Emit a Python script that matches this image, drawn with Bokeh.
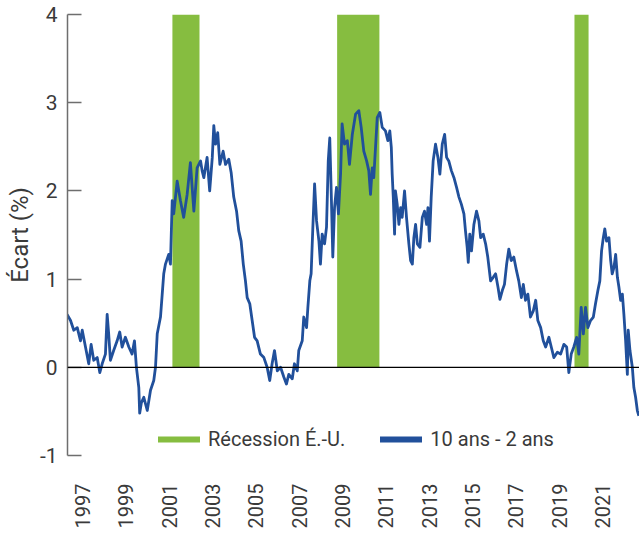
import math
from bokeh.plotting import figure
from bokeh.models import FixedTicker, Span, Legend, LegendItem, Range1d
from bokeh.embed import file_html
from bokeh.resources import INLINE

# ---- data (fractional years, spread in %) ----
years = [
    1996.29, 1996.45, 1996.60, 1996.76, 1996.91, 1996.99, 1997.14, 1997.29, 1997.40, 1997.52,
    1997.68, 1997.80, 1997.91, 1998.06, 1998.14, 1998.21, 1998.29, 1998.44, 1998.60, 1998.72,
    1998.83, 1998.98, 1999.14, 1999.29, 1999.40, 1999.49, 1999.60, 1999.64, 1999.72, 1999.83,
    1999.99, 2000.14, 2000.29, 2000.37, 2000.45, 2000.60, 2000.68, 2000.75, 2000.83, 2000.98,
    2001.06, 2001.14, 2001.21, 2001.37, 2001.52, 2001.67, 2001.83, 2001.98, 2002.14, 2002.29,
    2002.45, 2002.52, 2002.60, 2002.75, 2002.87, 2002.99, 2003.06, 2003.14, 2003.24, 2003.34,
    2003.49, 2003.60, 2003.75, 2003.86, 2003.98, 2004.11, 2004.21, 2004.32, 2004.42, 2004.52,
    2004.60, 2004.72, 2004.83, 2004.94, 2005.06, 2005.21, 2005.37, 2005.52, 2005.64, 2005.75,
    2005.86, 2005.99, 2006.14, 2006.29, 2006.41, 2006.52, 2006.68, 2006.78, 2006.91, 2006.98,
    2007.14, 2007.21, 2007.34, 2007.40, 2007.49, 2007.55, 2007.63, 2007.71, 2007.80, 2007.91,
    2007.98, 2008.06, 2008.17, 2008.26, 2008.34, 2008.41, 2008.48, 2008.55, 2008.63, 2008.72,
    2008.81, 2008.91, 2008.98, 2009.09, 2009.22, 2009.32, 2009.45, 2009.60, 2009.75, 2009.86,
    2009.98, 2010.11, 2010.21, 2010.29, 2010.37, 2010.44, 2010.52, 2010.60, 2010.72, 2010.83,
    2010.98, 2011.09, 2011.18, 2011.25, 2011.29, 2011.34, 2011.40, 2011.44, 2011.52, 2011.60,
    2011.68, 2011.75, 2011.86, 2011.95, 2012.06, 2012.14, 2012.22, 2012.29, 2012.37, 2012.45,
    2012.57, 2012.68, 2012.78, 2012.88, 2012.94, 2013.01, 2013.09, 2013.18, 2013.29, 2013.40,
    2013.49, 2013.60, 2013.71, 2013.80, 2013.90, 2014.02, 2014.14, 2014.26, 2014.37, 2014.48,
    2014.60, 2014.67, 2014.75, 2014.80, 2014.87, 2014.95, 2015.06, 2015.18, 2015.29, 2015.37,
    2015.49, 2015.60, 2015.70, 2015.83, 2015.95, 2016.06, 2016.17, 2016.26, 2016.37, 2016.47,
    2016.57, 2016.67, 2016.78, 2016.90, 2017.03, 2017.13, 2017.25, 2017.34, 2017.44, 2017.55,
    2017.67, 2017.80, 2017.91, 2018.01, 2018.14, 2018.26, 2018.37, 2018.52, 2018.63, 2018.75,
    2018.91, 2019.06, 2019.21, 2019.34, 2019.44, 2019.55, 2019.67, 2019.80, 2019.90, 2020.01,
    2020.11, 2020.21, 2020.32, 2020.44, 2020.57, 2020.67, 2020.78, 2020.87, 2020.95, 2021.03,
    2021.10, 2021.18, 2021.29, 2021.37, 2021.44, 2021.52, 2021.60, 2021.68, 2021.75, 2021.83,
    2021.91, 2021.98, 2022.06, 2022.14, 2022.18, 2022.26, 2022.37, 2022.44, 2022.52, 2022.60,
    2022.67,
]
spread = [
    0.60, 0.53, 0.42, 0.45, 0.30, 0.42, 0.23, 0.04, 0.26, 0.08,
    0.11, -0.06, 0.04, 0.15, 0.60, 0.38, 0.08, 0.19, 0.30, 0.40,
    0.23, 0.34, 0.23, 0.15, 0.30, 0.00, -0.23, -0.52, -0.40, -0.34,
    -0.49, -0.26, -0.15, 0.00, 0.38, 0.57, 0.83, 1.06, 1.17, 1.28,
    1.17, 1.89, 1.74, 2.11, 1.89, 1.70, 1.96, 2.32, 1.77, 2.26,
    2.34, 2.23, 2.15, 2.38, 2.00, 2.38, 2.74, 2.53, 2.66, 2.30,
    2.45, 2.30, 2.36, 2.21, 1.93, 1.77, 1.55, 1.43, 1.17, 0.98,
    0.79, 0.72, 0.53, 0.34, 0.30, 0.15, 0.11, 0.00, -0.15, 0.04,
    0.19, -0.04, 0.00, -0.11, -0.19, -0.08, -0.13, 0.04, -0.04, 0.19,
    0.30, 0.57, 0.45, 0.68, 0.98, 1.06, 1.59, 2.08, 1.66, 1.43,
    1.17, 1.51, 1.40, 1.59, 2.34, 2.60, 1.96, 1.25, 1.81, 2.04,
    1.74, 2.20, 2.76, 2.53, 2.57, 2.30, 2.64, 2.87, 2.91, 2.72,
    2.45, 2.34, 2.23, 1.96, 2.26, 2.15, 2.49, 2.83, 2.89, 2.72,
    2.68, 2.57, 2.68, 2.49, 2.19, 1.93, 1.51, 2.00, 1.85, 1.62,
    1.81, 1.70, 2.00, 1.70, 1.40, 1.21, 1.17, 1.47, 1.62, 1.40,
    1.36, 1.70, 1.77, 1.62, 1.81, 1.43, 1.93, 2.34, 2.53, 2.38,
    2.19, 2.53, 2.64, 2.38, 2.34, 2.23, 2.15, 2.04, 1.93, 1.85,
    1.74, 1.55, 1.36, 1.19, 1.51, 1.32, 1.62, 1.77, 1.66, 1.47,
    1.51, 1.40, 1.25, 0.98, 1.02, 1.06, 0.91, 0.77, 0.87, 0.94,
    1.17, 1.34, 1.21, 1.25, 1.09, 0.98, 0.79, 0.94, 0.76, 0.83,
    0.57, 0.64, 0.76, 0.53, 0.45, 0.30, 0.23, 0.34, 0.23, 0.11,
    0.17, 0.15, 0.26, 0.23, -0.06, 0.15, 0.23, 0.34, 0.15, 0.68,
    0.38, 0.68, 0.45, 0.53, 0.57, 0.72, 0.87, 0.98, 1.32, 1.47,
    1.57, 1.43, 1.47, 1.21, 1.06, 1.13, 1.28, 1.02, 0.91, 0.76,
    0.83, 0.60, 0.30, -0.08, 0.42, 0.19, 0.00, -0.23, -0.34, -0.49,
    -0.55,
]

recession_start = [2001.15, 2008.75, 2019.70]
recession_end = [2002.40, 2010.70, 2020.35]
recession_top = [4, 4, 4]
recession_bottom = [0, 0, 0]

tick_years = [1997, 1999, 2001, 2003, 2005, 2007, 2009, 2011, 2013, 2015, 2017, 2019, 2021]
y_ticks = [-1, 0, 1, 2, 3, 4]
y_tick_labels = ["-1", "0", "1", "2", "3", "4"]

GREEN = "#86bd40"
BLUE = "#21509b"
TEXT = "#3a3a3a"
FONT = "Roboto"

p = figure(width=639, height=533, output_backend="svg", toolbar_location=None,
           x_range=Range1d(1996.31, 2022.70), y_range=Range1d(-1, 4),
           min_border_left=67, min_border_right=0, min_border_top=14, min_border_bottom=78)
p.outline_line_color = None
p.xgrid.grid_line_color = None
p.ygrid.grid_line_color = None
p.background_fill_color = "white"
p.border_fill_color = "white"

p.quad(left=recession_start, right=recession_end, top=recession_top, bottom=recession_bottom,
       fill_color=GREEN, line_color=None)

p.add_layout(Span(location=0, dimension="width", line_color="black", line_width=1.2))

p.line(years, spread, line_color=BLUE, line_width=2.8, line_join="round")

# legend-only renderers
nan = float("nan")
lg_green = p.line([nan], [nan], line_color=GREEN, line_width=6, line_cap="round")
lg_blue = p.line([nan], [nan], line_color=BLUE, line_width=6, line_cap="round")
legend = Legend(items=[LegendItem(label="Récession É.-U.", renderers=[lg_green]),
                       LegendItem(label="10 ans - 2 ans", renderers=[lg_blue])],
                orientation="horizontal", location=(91, 4),
                padding=0, margin=0, spacing=35, label_standoff=8,
                glyph_width=42, glyph_height=20, label_height=20,
                label_text_font=FONT, label_text_font_size="20px", label_text_color=TEXT,
                border_line_color=None, background_fill_alpha=0)
p.add_layout(legend, "center")

# x axis
xa = p.xaxis[0]
xa.ticker = FixedTicker(ticks=tick_years)
xa.axis_line_color = None
xa.major_tick_line_color = None
xa.minor_tick_line_color = None
xa.major_tick_out = 0
xa.major_tick_in = 0
xa.major_label_orientation = math.pi / 2
xa.major_label_standoff = 28
xa.major_label_text_font = FONT
xa.major_label_text_font_size = "20px"
xa.major_label_text_color = TEXT

# y axis
ya = p.yaxis[0]
ya.ticker = FixedTicker(ticks=y_ticks)
ya.major_label_overrides = {t: s for t, s in zip(y_ticks, y_tick_labels)}
ya.axis_line_color = "#6e6e6e"
ya.axis_line_width = 1.5
ya.major_tick_line_color = "#6e6e6e"
ya.major_tick_line_width = 1.5
ya.minor_tick_line_color = None
ya.major_tick_in = 14
ya.major_tick_out = 0
ya.major_label_standoff = 10
ya.major_label_text_font = FONT
ya.major_label_text_font_size = "21px"
ya.major_label_text_color = TEXT
ya.axis_label = "Écart (%)"
ya.axis_label_text_font = FONT
ya.axis_label_text_font_size = "24px"
ya.axis_label_text_font_style = "normal"
ya.axis_label_text_color = TEXT
ya.axis_label_standoff = 3

open("out.html", "w").write(file_html(p, INLINE))
